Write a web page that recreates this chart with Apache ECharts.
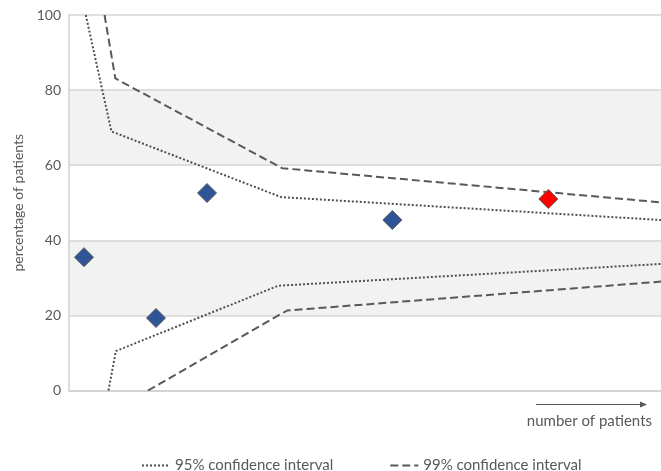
<!DOCTYPE html>
<html><head><meta charset="utf-8">
<script src="https://cdn.jsdelivr.net/npm/echarts@6/dist/echarts.min.js"></script>
<style>html,body{margin:0;padding:0;background:#fff}#c{width:661px;height:471px}</style>
</head><body><div id="c"></div>
<script>
var yTicks = [0, 20, 40, 60, 80, 100];
var ci95Upper = [[17, 100], [43, 69], [215, 51.5], [600, 45.4]];
var ci95Lower = [[40, 0], [47.5, 10.5], [212, 27.9], [600, 33.7]];
var ci99Upper = [[36, 100], [47, 83.1], [216, 59.2], [600, 50.1]];
var ci99Lower = [[80, 0], [221, 21.3], [600, 29.0]];
var hospitals = [[15.2, 35.5], [88.2, 19.3], [139.9, 52.6], [327.7, 45.4]];
var highlighted = [[485.8, 51.0]];

var font = 'Lato';
var grey = '#595959';
var chart = echarts.init(document.getElementById('c'));
function ciLine(name, data, type) {
  return {
    name: name, type: 'line', data: data, symbol: 'none', silent: true,
    lineStyle: type === 'dot'
      ? { color: '#505050', width: 2, type: [2, 2] }
      : { color: grey, width: 2, type: [8, 4] },
    itemStyle: { color: grey },
    z: 2
  };
}
chart.setOption({
  animation: false,
  textStyle: { fontFamily: font },
  grid: { left: 69, right: 0, top: 15, bottom: 80.5, outerBoundsMode: 'none', containLabel: false },
  legend: {
    top: 458, left: 141, padding: 0, itemGap: 56, itemWidth: 28, itemHeight: 14,
    itemStyle: { opacity: 0 },
    textStyle: { color: grey, fontSize: 15, fontFamily: font },
    data: ['95% confidence interval', '99% confidence interval']
  },
  xAxis: {
    type: 'value', min: 0, max: 600,
    axisLine: { show: true, lineStyle: { color: '#d0d0d0', width: 1.5 } },
    axisTick: { show: false }, axisLabel: { show: false }, splitLine: { show: false }
  },
  yAxis: {
    type: 'value', min: yTicks[0], max: yTicks[yTicks.length - 1], interval: 20,
    name: 'percentage of patients', nameLocation: 'middle', nameGap: 42, nameRotate: 90,
    nameTextStyle: { color: grey, fontSize: 14, fontFamily: font },
    axisLine: { show: true, lineStyle: { color: '#d0d0d0', width: 1.5 } },
    axisTick: { show: false },
    axisLabel: { color: grey, fontSize: 14, margin: 8, fontFamily: font },
    splitLine: { show: true, lineStyle: { color: '#d4d4d4', width: 1.5 } },
    splitArea: { show: true, areaStyle: { color: ['#ffffff', '#f2f2f2'] } }
  },
  series: [
    ciLine('95% confidence interval', ci95Upper, 'dot'),
    ciLine('95% confidence interval', ci95Lower, 'dot'),
    ciLine('99% confidence interval', ci99Upper, 'dash'),
    ciLine('99% confidence interval', ci99Lower, 'dash'),
    { name: 'hospitals', type: 'scatter', data: hospitals, symbol: 'diamond', symbolSize: 19,
      itemStyle: { color: '#2F5597', borderColor: '#5a5a5a', borderWidth: 1, opacity: 1 }, z: 5 },
    { name: 'highlighted', type: 'scatter', data: highlighted, symbol: 'diamond', symbolSize: 19,
      itemStyle: { color: '#FF0000', borderColor: '#5a5a5a', borderWidth: 1, opacity: 1 }, z: 5 }
  ],
  graphic: [
    { type: 'line', shape: { x1: 536, y1: 404.5, x2: 641, y2: 404.5 },
      style: { stroke: '#595959', lineWidth: 1 } },
    { type: 'polygon', shape: { points: [[640, 401.5], [647, 404.5], [640, 407.5]] },
      style: { fill: '#595959' } },
    { type: 'text', x: 652, y: 421,
      style: { text: 'number of patients', fill: grey, font: '15px Lato', align: 'right', verticalAlign: 'middle' } }
  ]
});
</script></body></html>
